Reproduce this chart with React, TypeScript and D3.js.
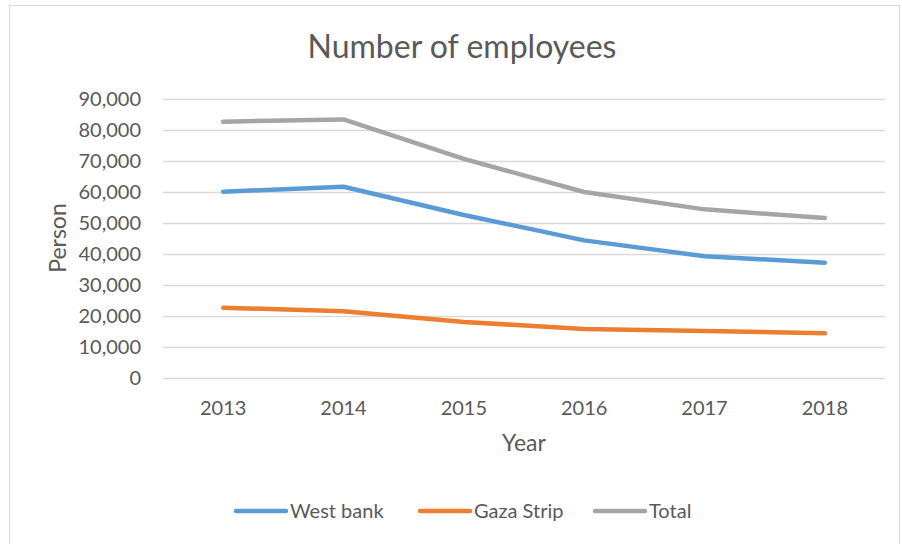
import * as d3 from 'd3';
import { useEffect, useRef } from 'react';

const years = ['2013', '2014', '2015', '2016', '2017', '2018'];
const westBank = [60100, 61700, 52600, 44400, 39300, 37200];
const gazaStrip = [22700, 21500, 18100, 15800, 15200, 14400];
const total = [82700, 83400, 70700, 60000, 54400, 51600];
const yTicks = [0, 10000, 20000, 30000, 40000, 50000, 60000, 70000, 80000, 90000];

const seriesNames = ['West bank', 'Gaza Strip', 'Total'];
const colors = ['#5B9BD5', '#ED7D31', '#A5A5A5'];

const FONT = 'Lato, "Open Sans", sans-serif';
const TEXT = '#595959';

export default function App() {
  const ref = useRef<SVGSVGElement | null>(null);

  useEffect(() => {
    if (!ref.current) return;
    const svg = d3.select(ref.current);
    svg.selectAll('*').remove();

    const W = 902;
    const H = 544;
    const plot = { left: 163, right: 885, top: 99, bottom: 378 };

    // chart border
    svg
      .append('rect')
      .attr('x', 9.5)
      .attr('y', 5.5)
      .attr('width', W - 12)
      .attr('height', H + 10)
      .attr('fill', '#fff')
      .attr('stroke', '#d9d9d9');

    const x = d3.scaleBand().domain(years).range([plot.left, plot.right]);
    const y = d3.scaleLinear().domain([0, 90000]).range([plot.bottom, plot.top]);

    // gridlines
    svg
      .append('g')
      .selectAll('line')
      .data(yTicks)
      .join('line')
      .attr('x1', plot.left)
      .attr('x2', plot.right)
      .attr('y1', (d) => Math.round(y(d)) + 0.5)
      .attr('y2', (d) => Math.round(y(d)) + 0.5)
      .attr('stroke', '#d9d9d9')
      .attr('stroke-width', 1.3);

    // y labels
    svg
      .append('g')
      .selectAll('text')
      .data(yTicks)
      .join('text')
      .attr('x', 141)
      .attr('y', (d) => y(d))
      .attr('dy', '0.35em')
      .attr('text-anchor', 'end')
      .attr('font-family', FONT)
      .attr('font-size', 20)
      .attr('fill', TEXT)
      .text((d) => d3.format(',')(d));

    // x labels
    svg
      .append('g')
      .selectAll('text')
      .data(years)
      .join('text')
      .attr('x', (d) => x(d)! + x.bandwidth() / 2)
      .attr('y', 408)
      .attr('dy', '0.35em')
      .attr('text-anchor', 'middle')
      .attr('font-family', FONT)
      .attr('font-size', 20)
      .attr('fill', TEXT)
      .text((d) => d);

    // titles
    svg
      .append('text')
      .attr('x', 462)
      .attr('y', 47)
      .attr('dy', '0.35em')
      .attr('text-anchor', 'middle')
      .attr('font-family', FONT)
      .attr('font-size', 32)
      .attr('fill', TEXT)
      .text('Number of employees');

    svg
      .append('text')
      .attr('x', 524)
      .attr('y', 443)
      .attr('dy', '0.35em')
      .attr('text-anchor', 'middle')
      .attr('font-family', FONT)
      .attr('font-size', 23)
      .attr('fill', TEXT)
      .text('Year');

    svg
      .append('text')
      .attr('transform', 'translate(58,238) rotate(-90)')
      .attr('dy', '0.35em')
      .attr('text-anchor', 'middle')
      .attr('font-family', FONT)
      .attr('font-size', 23)
      .attr('fill', TEXT)
      .text('Person');

    // lines
    const line = d3
      .line<number>()
      .x((_, i) => x(years[i])! + x.bandwidth() / 2)
      .y((d) => y(d));

    [westBank, gazaStrip, total].forEach((values, i) => {
      svg
        .append('path')
        .datum(values)
        .attr('d', line)
        .attr('fill', 'none')
        .attr('stroke', colors[i])
        .attr('stroke-width', 4.5)
        .attr('stroke-linecap', 'round')
        .attr('stroke-linejoin', 'round');
    });

    // legend
    const legendX = [236, 420, 595];
    const legend = svg
      .append('g')
      .selectAll('g')
      .data(seriesNames)
      .join('g')
      .attr('transform', (_, i) => `translate(${legendX[i]},511)`);

    legend
      .append('line')
      .attr('x1', 0)
      .attr('x2', 50)
      .attr('stroke', (_, i) => colors[i])
      .attr('stroke-width', 4.5)
      .attr('stroke-linecap', 'round');

    legend
      .append('text')
      .attr('x', 54)
      .attr('dy', '0.35em')
      .attr('font-family', FONT)
      .attr('font-size', 20)
      .attr('fill', TEXT)
      .text((d) => d);
  }, []);

  return (
    <svg
      ref={ref}
      width={902}
      height={544}
      style={{ position: 'absolute', left: 0, top: 0 }}
    />
  );
}
